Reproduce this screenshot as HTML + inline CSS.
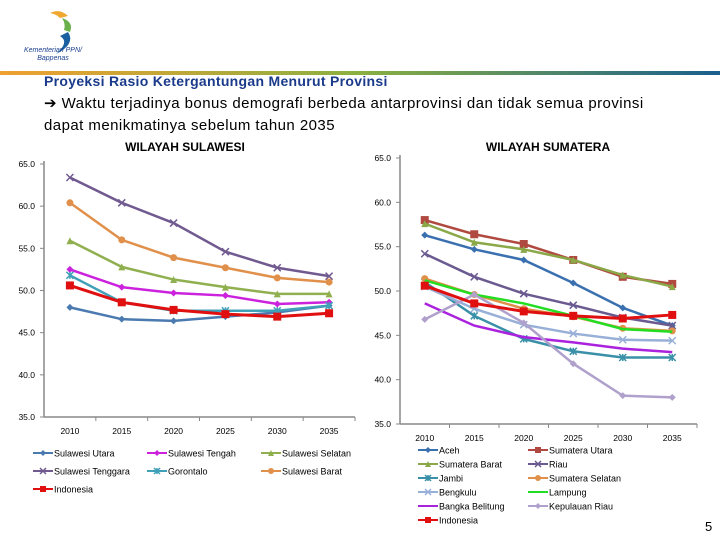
<!DOCTYPE html>
<html><head><meta charset="utf-8"><style>
body{margin:0;width:720px;height:540px;background:#fff;position:relative;overflow:hidden;font-family:"Liberation Sans",sans-serif}
.t{position:absolute;white-space:nowrap}
</style></head><body>
<div style="position:absolute;left:30px;top:8px;width:70px;height:60px">
<svg width="70" height="60"><path d="M20 5 Q30 0 38 8 L30 10 Q26 6 20 5Z" fill="#f0a830"/><path d="M32 10 Q44 14 40 24 L34 22 Q36 16 32 10Z" fill="#6ab04c"/><path d="M38 24 Q46 36 26 46 Q40 34 30 28Z" fill="#1a5fa0"/></svg>
</div>
<div class="t" style="left:24px;top:47px;font-size:7px;font-style:italic;color:#1a3f8f;line-height:8px;text-align:center">Kementerian PPN/<br>Bappenas</div>
<div style="position:absolute;left:0;top:71px;width:720px;height:4px;background:linear-gradient(90deg,#f0a030,#8ab040 50%,#1a5f8f)"></div>
<div class="t" style="left:44px;top:74px;font-size:14px;line-height:15px;font-weight:bold;color:#1a3a8a;letter-spacing:0.3px">Proyeksi Rasio Ketergantungan Menurut Provinsi</div>
<div class="t" style="left:44px;top:93px;font-size:15px;line-height:22px;color:#000;letter-spacing:0.45px">➔ Waktu terjadinya bonus demografi berbeda antarprovinsi dan tidak semua provinsi<br>dapat menikmatinya sebelum tahun 2035</div>
<div class="t" style="left:705px;top:519px;font-size:13px">5</div>
<svg id="c" width="720" height="540" style="position:absolute;left:0;top:0"></svg>
<script>
const years=["2010","2015","2020","2025","2030","2035"];
const yTicks=[35,40,45,50,55,60,65];
const sulNames=["Sulawesi Utara","Sulawesi Tengah","Sulawesi Selatan","Sulawesi Tenggara","Gorontalo","Sulawesi Barat","Indonesia"];
const sulUtara=[48.0,46.6,46.4,46.9,47.4,48.2];
const sulTengah=[52.5,50.4,49.7,49.4,48.4,48.6];
const sulSelatan=[55.9,52.8,51.3,50.4,49.6,49.6];
const sulTenggara=[63.4,60.4,58.0,54.6,52.7,51.7];
const gorontalo=[51.8,48.6,47.6,47.6,47.6,48.2];
const sulBarat=[60.4,56.0,53.9,52.7,51.5,51.0];
const indonesia=[50.6,48.6,47.7,47.2,46.9,47.3];
const sumNames=["Aceh","Sumatera Utara","Sumatera Barat","Riau","Jambi","Sumatera Selatan","Bengkulu","Lampung","Bangka Belitung","Kepulauan Riau","Indonesia"];
const aceh=[56.3,54.7,53.5,50.9,48.1,46.1];
const sumUtara=[58.0,56.4,55.3,53.5,51.6,50.8];
const sumBarat=[57.6,55.5,54.7,53.5,51.8,50.5];
const riau=[54.2,51.6,49.7,48.4,47.0,46.1];
const jambi=[51.0,47.2,44.6,43.2,42.5,42.5];
const sumSelatan=[51.4,49.6,48.0,47.1,45.8,45.5];
const bengkulu=[50.5,48.0,46.2,45.2,44.5,44.4];
const lampung=[51.2,49.6,48.6,47.2,45.7,45.4];
const bangka=[48.6,46.1,44.8,44.2,43.5,43.1];
const kepRiau=[46.8,49.6,46.4,41.8,38.2,38.0];

const svg=document.getElementById('c');const NS='http://www.w3.org/2000/svg';
function mk(t,a,p){const e=document.createElementNS(NS,t);for(const k in a)e.setAttribute(k,a[k]);(p||svg).appendChild(e);return e;}
function marker(g,kind,x,y,c,s){
 if(kind==='d')mk('polygon',{points:`${x},${y-s} ${x+s},${y} ${x},${y+s} ${x-s},${y}`,fill:c},g);
 else if(kind==='s')mk('rect',{x:x-s,y:y-s,width:2*s,height:2*s,fill:c},g);
 else if(kind==='t')mk('polygon',{points:`${x},${y-s} ${x+s},${y+s} ${x-s},${y+s}`,fill:c},g);
 else if(kind==='c')mk('circle',{cx:x,cy:y,r:s,fill:c},g);
 else if(kind==='x'){mk('path',{d:`M${x-s} ${y-s}L${x+s} ${y+s}M${x-s} ${y+s}L${x+s} ${y-s}`,stroke:c,'stroke-width':1.5},g);}
 else if(kind==='*'){mk('path',{d:`M${x-s} ${y-s}L${x+s} ${y+s}M${x-s} ${y+s}L${x+s} ${y-s}M${x} ${y-s}L${x} ${y+s}`,stroke:c,'stroke-width':1.5},g);}
}
function chart(o){
 const g=mk('g',{});
 const yS=v=>o.y0-(v-35)/30*(o.y0-o.y1);
 const bw=(o.x1-o.x0)/years.length;const xS=i=>o.x0+bw*(i+0.5);
 mk('line',{x1:o.x0,y1:o.y1-3,x2:o.x0,y2:o.y0,stroke:'#888','stroke-width':1.5},g);
 mk('line',{x1:o.x0,y1:o.y0,x2:o.x1,y2:o.y0,stroke:'#888','stroke-width':1.5},g);
 yTicks.forEach(v=>{const y=yS(v);mk('line',{x1:o.x0-4,y1:y,x2:o.x0,y2:y,stroke:'#888'},g);
  const t=mk('text',{x:o.x0-9,y:y+3,'font-size':8.5,'text-anchor':'end',fill:'#000'},g);t.textContent=v.toFixed(1);});
 years.forEach((yr,i)=>{mk('line',{x1:o.x0+bw*(i+1),y1:o.y0,x2:o.x0+bw*(i+1),y2:o.y0+4,stroke:'#888'},g);
  const t=mk('text',{x:xS(i),y:o.y0+17,'font-size':8.5,'text-anchor':'middle'},g);t.textContent=yr;});
 const tt=mk('text',{x:o.tx,y:o.ty,'font-size':12,'font-weight':'bold','text-anchor':'middle'},g);tt.textContent=o.title;
 o.series.forEach(s=>{const sg=mk('g',{},g);
  
  
  mk('polyline',{points:s.d.map((v,i)=>xS(i)+','+yS(v)).join(' '),fill:'none',stroke:s.c,'stroke-width':s.w||2.5},sg);
  if(s.m)s.d.forEach((v,i)=>marker(sg,s.m,xS(i),yS(v),s.c,s.m==='s'?4:3.5));});
 o.series.forEach((s,i)=>{const col=i%o.cols,row=Math.floor(i/o.cols);
  const lx=o.lx+col*o.lcw,ly=o.ly+row*o.lrh;const lg=mk('g',{},g);
  
  
  mk('line',{x1:lx,y1:ly,x2:lx+20,y2:ly,stroke:s.c,'stroke-width':2},lg);
  if(s.m)marker(lg,s.m,lx+10,ly,s.c,3);
  const t=mk('text',{x:lx+21,y:ly+3.5,'font-size':9},lg);t.textContent=s.n;});
}
chart({name:'sulawesi-chart',title:'WILAYAH SULAWESI',tx:185,ty:151,x0:44,x1:355,y0:417,y1:164,cols:3,lx:33,ly:453,lcw:114,lrh:18,
 series:[{n:sulNames[0],d:sulUtara,c:'#4a7ab0',m:'d'},{n:sulNames[1],d:sulTengah,c:'#cc22dd',m:'d'},{n:sulNames[2],d:sulSelatan,c:'#90b050',m:'t'},
 {n:sulNames[3],d:sulTenggara,c:'#705a90',m:'x'},{n:sulNames[4],d:gorontalo,c:'#40a0b8',m:'*'},{n:sulNames[5],d:sulBarat,c:'#e0904a',m:'c'},{n:sulNames[6],d:indonesia,c:'#e01010',m:'s',w:3}]});
chart({name:'sumatera-chart',title:'WILAYAH SUMATERA',tx:548,ty:151,x0:400,x1:697,y0:424,y1:158,cols:2,lx:418,ly:450,lcw:110,lrh:14,
 series:[{n:sumNames[0],d:aceh,c:'#3a70b0',m:'d'},{n:sumNames[1],d:sumUtara,c:'#b04a40',m:'s'},{n:sumNames[2],d:sumBarat,c:'#8aa848',m:'t'},
 {n:sumNames[3],d:riau,c:'#6a5a90',m:'x'},{n:sumNames[4],d:jambi,c:'#3a90a8',m:'*'},{n:sumNames[5],d:sumSelatan,c:'#e0904a',m:'c'},
 {n:sumNames[6],d:bengkulu,c:'#98b0d8',m:'x'},{n:sumNames[7],d:lampung,c:'#22dd22'},{n:sumNames[8],d:bangka,c:'#aa22dd'},
 {n:sumNames[9],d:kepRiau,c:'#b0a0cc',m:'d'},{n:sumNames[10],d:indonesia,c:'#e01010',m:'s',w:3}]});
</script>
</body></html>
